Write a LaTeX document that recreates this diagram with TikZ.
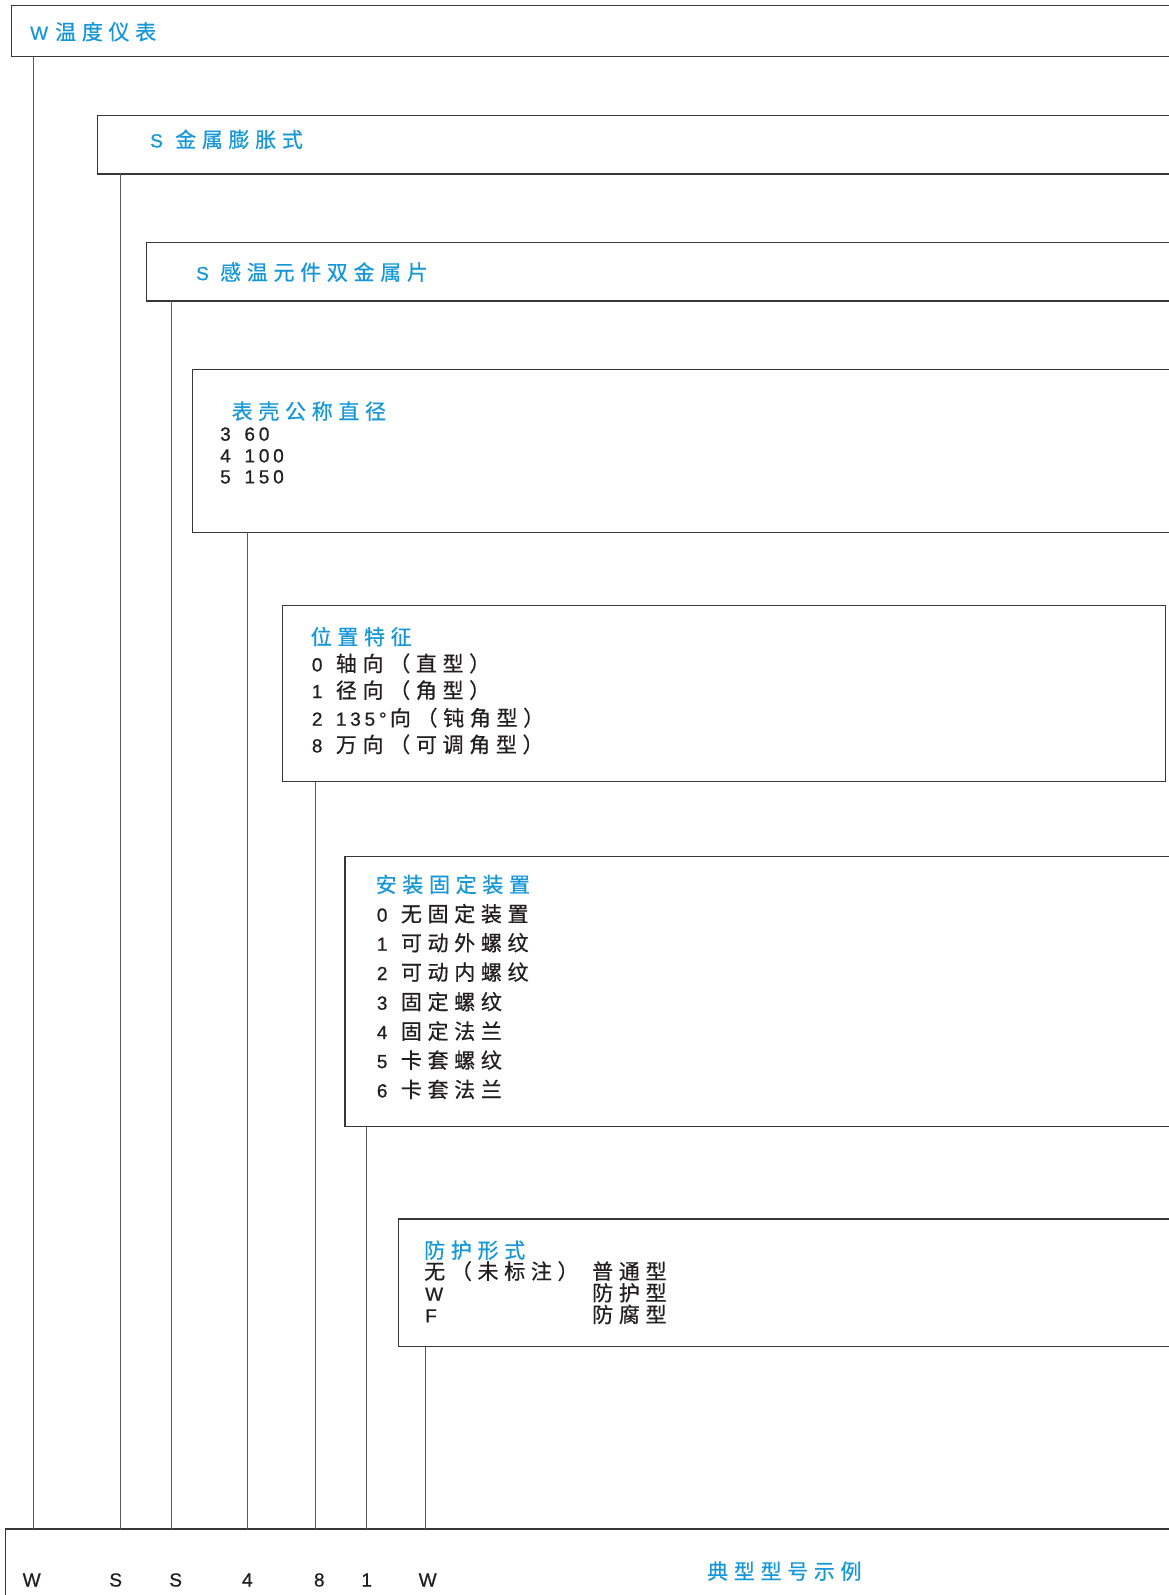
\documentclass[tikz,border=0pt]{standalone}
\usepackage{fontspec}
\setmainfont{Noto Sans CJK SC}
\newfontfamily\cjkf[LetterSpace=27,FakeBold=0.6]{Noto Sans CJK SC}
\newfontfamily\latf[LetterSpace=20,FakeBold=0.8]{Liberation Sans}
\newcommand\cj[1]{{\cjkf\fontsize{21}{25}\selectfont #1}}
\newcommand\nm[1]{{\latf\fontsize{19}{23}\selectfont #1}}
\newcommand\pre[2][24]{\makebox[#1pt][l]{\nm{#2}}}
\definecolor{ttl}{RGB}{22,152,216}
\definecolor{ink}{RGB}{35,31,32}
\definecolor{frame}{RGB}{55,55,55}
\definecolor{conncol}{RGB}{90,90,90}
\tikzset{
  box/.style={draw=frame, line width=1.1pt, inner sep=0pt, outer sep=0pt, anchor=north west},
  conn/.style={draw=conncol, line width=1pt},
  title/.style={text=ttl, inner sep=0pt, anchor=base west},
  txt/.style={text=ink, inner sep=0pt, anchor=base west},
  code/.style={text=ink, inner sep=0pt, anchor=base},
}
\begin{document}
\begin{tikzpicture}[x=1pt,y=-1pt]
\useasboundingbox (0,0) rectangle (1169,1595);
\clip (0,0) rectangle (1169,1595);
% boxes
\node[box, minimum width=1168.7pt, minimum height=51pt] (b1) at (11.3,5.7) {};
\node[box, minimum width=1082.7pt, minimum height=58.7pt] (b2) at (97.3,115.3) {};
\node[box, minimum width=1033.3pt, minimum height=58.3pt] (b3) at (146.7,242.7) {};
\node[box, minimum width=987.3pt, minimum height=163pt] (b4) at (192.7,369.3) {};
\node[box, minimum width=883pt, minimum height=176pt] (b5) at (282.3,605.7) {};
\node[box, minimum width=835pt, minimum height=270pt] (b6) at (345,856.7) {};
\node[box, minimum width=781.7pt, minimum height=127.7pt] (b7) at (398.3,1219) {};
\node[box, minimum width=1174.3pt, minimum height=90pt] (b8) at (5.7,1529) {};
% connector columns
\coordinate (c1) at (33.7,0);
\coordinate (c2) at (120,0);
\coordinate (c3) at (171.7,0);
\coordinate (c4) at (247.7,0);
\coordinate (c5) at (315.5,0);
\coordinate (c6) at (366.3,0);
\coordinate (c7) at (425.3,0);
\draw[conn] (b1.south -| c1) -- (b8.north -| c1);
\draw[conn] (b2.south -| c2) -- (b8.north -| c2);
\draw[conn] (b3.south -| c3) -- (b8.north -| c3);
\draw[conn] (b4.south -| c4) -- (b8.north -| c4);
\draw[conn] (b5.south -| c5) -- (b8.north -| c5);
\draw[conn] (b6.south -| c6) -- (b8.north -| c6);
\draw[conn] (b7.south -| c7) -- (b8.north -| c7);
% titles
\node[title] (t1) at (30,39.7) {\pre[25]{W}\cj{温度仪表}};
\node[title] (t2) at (150,147.4) {\pre[25]{S}\cj{金属膨胀式}};
\node[title] (t3) at (196,280.1) {\pre[24]{S}\cj{感温元件双金属片}};
% box 4
\node[title] (t4) at (231.5,419.1) {\cj{表壳公称直径}};
\node[txt] (l41) at (220,440.7) {\pre[24.3]{3}\nm{60}};
\node[txt] (l42) at (220,462.4) {\pre[24.3]{4}\nm{100}};
\node[txt] (l43) at (220,483.4) {\pre[24.3]{5}\nm{150}};
% box 5
\node[title] (t5) at (310.5,644.7) {\cj{位置特征}};
\node[txt] (l51) at (311.7,671.4) {\pre{0}\cj{轴向（直型）}};
\node[txt] (l52) at (311.7,698.1) {\pre{1}\cj{径向（角型）}};
\node[txt] (l53) at (311.7,725.7) {\pre{2}\makebox[54pt][l]{\nm{135°}}\cj{向（钝角型）}};
\node[txt] (l54) at (311.7,752.4) {\pre{8}\cj{万向（可调角型）}};
% box 6
\node[title] (t6) at (375.5,892.4) {\cj{安装固定装置}};
\node[txt] (l60) at (376.7,921.7) {\pre{0}\cj{无固定装置}};
\node[txt] (l61) at (376.7,950.7) {\pre{1}\cj{可动外螺纹}};
\node[txt] (l62) at (376.7,980.1) {\pre{2}\cj{可动内螺纹}};
\node[txt] (l63) at (376.7,1009.7) {\pre{3}\cj{固定螺纹}};
\node[txt] (l64) at (376.7,1039.1) {\pre{4}\cj{固定法兰}};
\node[txt] (l65) at (376.7,1068.1) {\pre{5}\cj{卡套螺纹}};
\node[txt] (l66) at (376.7,1097.4) {\pre{6}\cj{卡套法兰}};
% box 7
\node[title] (t7) at (424,1258.1) {\cj{防护形式}};
\node[txt] (l71) at (424,1279.1) {\cj{无（未标注）}};
\node[txt] (l72) at (425,1300.7) {\nm{W}};
\node[txt] (l73) at (425,1322.4) {\nm{F}};
\node[txt] (r71) at (592,1279.1) {\cj{普通型}};
\node[txt] (r72) at (592,1300.7) {\cj{防护型}};
\node[txt] (r73) at (592,1322.4) {\cj{防腐型}};
% bottom example
\node[code] (e1) at (31.7,1586.5) {\nm{W}};
\node[code] (e2) at (115.7,1586.5) {\nm{S}};
\node[code] (e3) at (175.7,1586.5) {\nm{S}};
\node[code] (e4) at (247.3,1586.5) {\nm{4}};
\node[code] (e5) at (319.3,1586.5) {\nm{8}};
\node[code] (e6) at (366.7,1586.5) {\nm{1}};
\node[code] (e7) at (427.7,1586.5) {\nm{W}};
\node[title] (t8) at (707,1579.1) {\cj{典型型号示例}};
\end{tikzpicture}
\end{document}
